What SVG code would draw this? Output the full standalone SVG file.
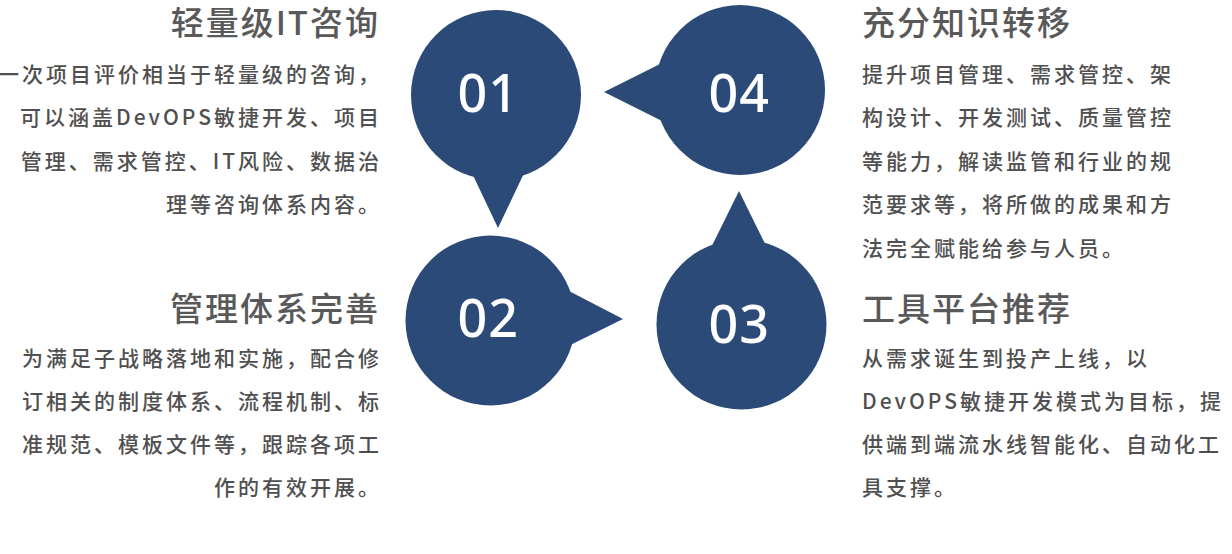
<svg xmlns="http://www.w3.org/2000/svg" width="1232" height="554" viewBox="0 0 1232 554">
<style>
.bub{fill:#2b4a78}
.num{fill:#ffffff;font-family:"Noto Sans","Liberation Sans",sans-serif;font-size:52px;letter-spacing:1px;font-weight:500}
.title{fill:#595959;font-family:"Noto Sans CJK SC","Noto Sans",sans-serif;font-size:33px;letter-spacing:2px;font-weight:500}
.body{fill:#505050;font-family:"Noto Sans CJK SC","Noto Sans",sans-serif;font-size:21px;letter-spacing:3px;font-weight:500}
.end{text-anchor:end}
</style>
<rect width="1232" height="554" fill="#ffffff"/>
<g id="connectors">
<polygon class="bub" points="498,228 461,150 535,150"/>
<polygon class="bub" points="623,319 540,276 540,360"/>
<polygon class="bub" points="739,191 700,270 778,270"/>
<polygon class="bub" points="604,92 680,54 680,130"/>
</g>
<g id="node-01">
<circle class="bub" cx="496" cy="95" r="85"/>
<text class="num" x="457.5" y="112">01</text>
</g>
<g id="node-02">
<circle class="bub" cx="490.5" cy="320.5" r="85"/>
<text class="num" x="457.5" y="337">02</text>
</g>
<g id="node-03">
<circle class="bub" cx="741.5" cy="324.5" r="85"/>
<text class="num" x="708.5" y="343">03</text>
</g>
<g id="node-04">
<circle class="bub" cx="740" cy="90" r="85"/>
<text class="num" x="708.5" y="112">04</text>
</g>
<g id="text-01">
<text class="title end" x="380" y="35">轻量级IT咨询</text>
<text class="body end" x="382" y="81.5">一次项目评价相当于轻量级的咨询，</text>
<text class="body end" x="382" y="125">可以涵盖DevOPS敏捷开发、项目</text>
<text class="body end" x="382" y="168.5">管理、需求管控、IT风险、数据治</text>
<text class="body end" x="382" y="212">理等咨询体系内容。</text>
</g>
<g id="text-04">
<text class="title" x="862" y="35">充分知识转移</text>
<text class="body" x="862" y="81.5">提升项目管理、需求管控、架</text>
<text class="body" x="862" y="125">构设计、开发测试、质量管控</text>
<text class="body" x="862" y="168.5">等能力，解读监管和行业的规</text>
<text class="body" x="862" y="212">范要求等，将所做的成果和方</text>
<text class="body" x="862" y="255.5">法完全赋能给参与人员。</text>
</g>
<g id="text-02">
<text class="title end" x="380" y="321">管理体系完善</text>
<text class="body end" x="382" y="366">为满足子战略落地和实施，配合修</text>
<text class="body end" x="382" y="409">订相关的制度体系、流程机制、标</text>
<text class="body end" x="382" y="452">准规范、模板文件等，跟踪各项工</text>
<text class="body end" x="382" y="495">作的有效开展。</text>
</g>
<g id="text-03">
<text class="title" x="862" y="321">工具平台推荐</text>
<text class="body" x="862" y="366">从需求诞生到投产上线，以</text>
<text class="body" x="862" y="409">DevOPS敏捷开发模式为目标，提</text>
<text class="body" x="862" y="452">供端到端流水线智能化、自动化工</text>
<text class="body" x="862" y="495">具支撑。</text>
</g>
</svg>
